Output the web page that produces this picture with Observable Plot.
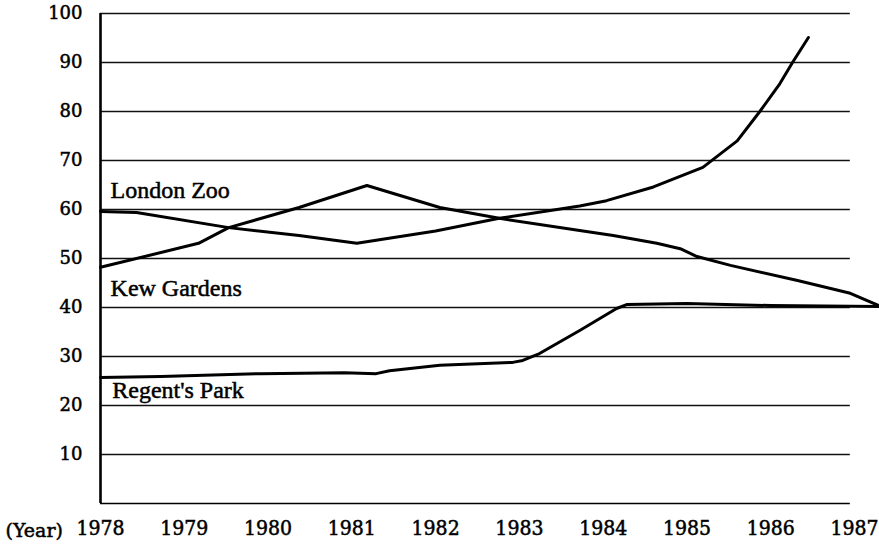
<!DOCTYPE html>
<html>
<head>
<meta charset="utf-8">
<script src="https://cdn.jsdelivr.net/npm/d3@7"></script>
<script src="https://cdn.jsdelivr.net/npm/@observablehq/plot@0.6"></script>
<style>
  html, body { margin: 0; padding: 0; background: #fff; }
  #chart svg { display: block; }
  #chart svg text { stroke: #000; stroke-width: 0.5px; font-variant: normal !important; }
  #chart svg .xlab text, #chart svg .xlab { font-stretch: condensed; }
</style>
</head>
<body>
<div id="chart"></div>
<script>
// Years (x) and visitor values (y)
const londonYears  = [1978, 1978.43, 1979.53, 1980.37, 1981.06, 1982.0, 1982.76, 1983.72, 1984.04, 1984.6, 1985.19, 1985.6, 1985.87, 1986.11, 1986.26, 1986.45];
const londonValues = [59.6, 59.4, 56.3, 54.7, 53.1, 55.6, 58.2, 60.7, 61.8, 64.6, 68.6, 74.0, 80.0, 85.7, 90.0, 95.1];

const kewYears  = [1978, 1979.17, 1979.53, 1980.37, 1981.18, 1982.05, 1982.76, 1983.72, 1984.12, 1984.64, 1984.92, 1985.12, 1985.52, 1986.32, 1986.95, 1987.29];
const kewValues = [48.2, 53.1, 56.3, 60.4, 64.9, 60.4, 58.2, 55.7, 54.7, 53.1, 52.0, 50.4, 48.6, 45.5, 42.9, 40.4];

const regentYears  = [1978, 1978.72, 1979.91, 1980.91, 1981.29, 1981.45, 1982.05, 1982.92, 1983.04, 1983.24, 1983.72, 1984.16, 1984.28, 1985.0, 1986.0, 1987.29];
const regentValues = [25.7, 25.9, 26.5, 26.7, 26.5, 27.1, 28.2, 28.8, 29.2, 30.6, 35.3, 39.8, 40.6, 40.8, 40.4, 40.2];

const seriesNames = ["London Zoo", "Kew Gardens", "Regent's Park"];
const labelYears  = [1978.12, 1978.12, 1978.14];
const labelValues = [62.4, 42.4, 21.6];

const xTicks = [1978, 1979, 1980, 1981, 1982, 1983, 1984, 1985, 1986, 1987];
const yTicks = [10, 20, 30, 40, 50, 60, 70, 80, 90, 100];
const axisLabel = "(Year)";
const gridEnd = 1986.95;

const rows = [];
[[londonYears, londonValues, seriesNames[0]],
 [kewYears, kewValues, seriesNames[1]],
 [regentYears, regentValues, seriesNames[2]]].forEach(([xs, ys, name]) => {
  xs.forEach((x, i) => rows.push({series: name, year: x, value: ys[i]}));
});
const labels = seriesNames.map((n, i) => ({name: n, year: labelYears[i], value: labelValues[i]}));

const serif = "'Liberation Serif', serif";
const slab = "'DejaVu Serif', serif";
const chart = Plot.plot({
  width: 879,
  height: 545,
  marginLeft: 100,
  marginRight: 25,
  marginTop: 13,
  marginBottom: 42,
  style: {fontFamily: serif, background: "#fff", color: "#000"},
  x: {domain: [1978, 1987]},
  y: {domain: [0, 100]},
  marks: [
    Plot.ruleY(yTicks, {x1: 1978, x2: gridEnd, stroke: "#111", strokeWidth: 1.5}),
    Plot.ruleY([0], {x1: 1978, x2: gridEnd, stroke: "#000", strokeWidth: 1.6}),
    Plot.ruleX([1978], {y1: 0, y2: 100, stroke: "#000", strokeWidth: 2.6}),
    Plot.axisY({ticks: yTicks, tickSize: 0, tickPadding: 18, fontSize: 18, fontFamily: slab, label: null, tickFormat: d => String(d)}),
    Plot.axisX({ticks: xTicks, tickSize: 0, tickPadding: 17, fontSize: 21, fontFamily: slab, className: "xlab", label: null, tickFormat: "d"}),
    Plot.text([axisLabel], {frameAnchor: "bottom-left", dx: -95, dy: 33, textAnchor: "start", lineAnchor: "bottom", fontSize: 19, fontFamily: slab}),
    Plot.line(rows, {x: "year", y: "value", z: "series", stroke: "#000", strokeWidth: 3, curve: "linear"}),
    Plot.text(labels, {x: "year", y: "value", text: "name", textAnchor: "start", lineAnchor: "bottom", fontSize: 24, fontFamily: serif, fill: "#000"})
  ]
});
document.getElementById("chart").appendChild(chart);
</script>
</body>
</html>
